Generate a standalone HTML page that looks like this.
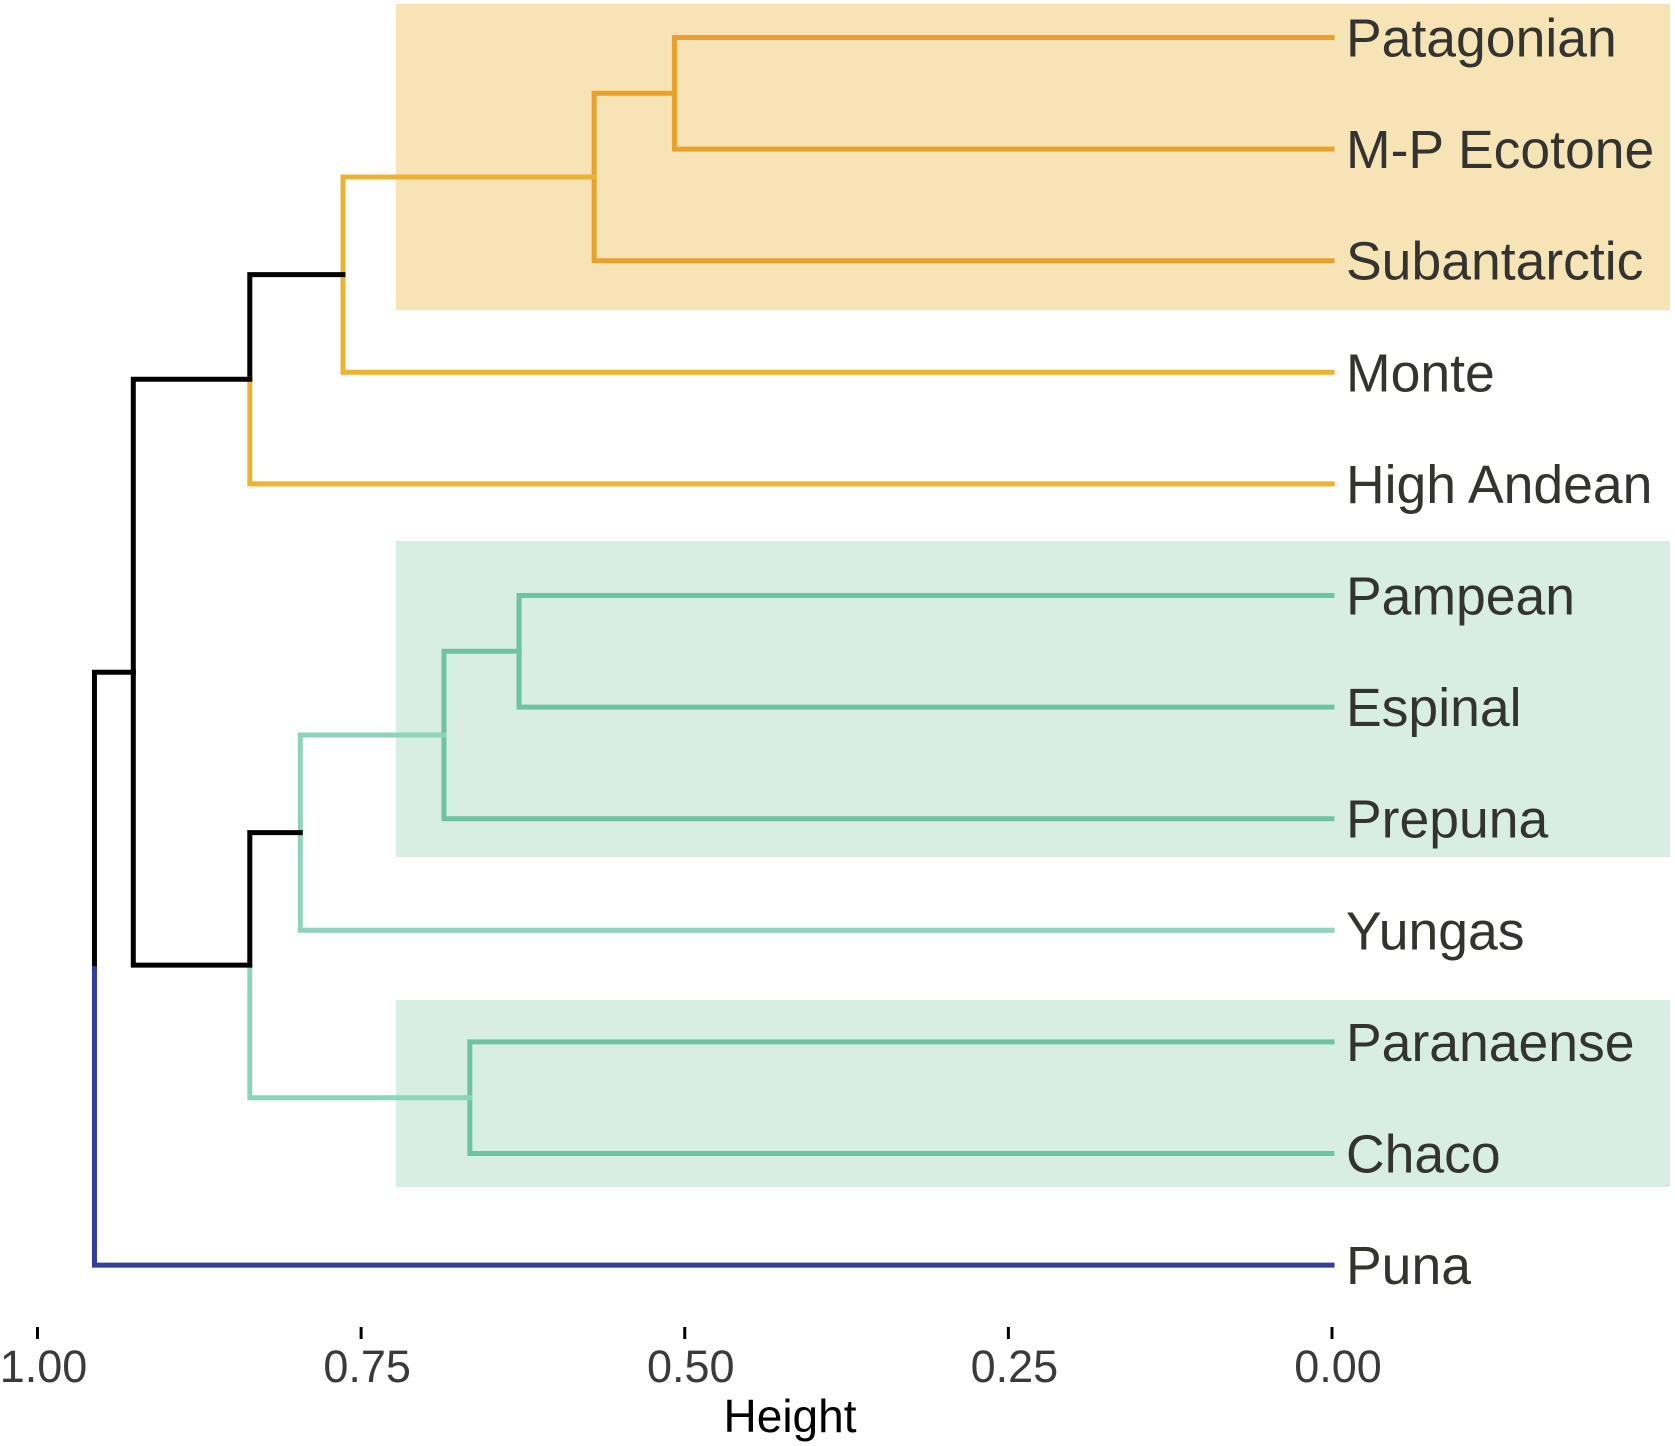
<!DOCTYPE html>
<html><head><meta charset="utf-8"><style>
html,body{margin:0;padding:0;background:#fff;}
svg{display:block;font-family:"Liberation Sans",Arial,sans-serif;}
</style></head><body>
<svg id="chart" width="1675" height="1446" viewBox="0 0 1675 1446" xmlns="http://www.w3.org/2000/svg">
<g id="boxes">
<rect x="396" y="4" width="1274" height="306" fill="#F6E4B6"/>
<rect x="396" y="541" width="1274" height="316" fill="#D8EEE5"/>
<rect x="396" y="1000" width="1274" height="187" fill="#D8EEE5"/>
</g>
<g id="branches"></g>
<g id="labels"></g>
<g id="axis"></g>
<text x="790" y="1432" text-anchor="middle" font-size="46" fill="#000">Height</text>
</svg>
<script>
const leaves = ["Patagonian","M-P Ecotone","Subantarctic","Monte","High Andean","Pampean","Espinal","Prepuna","Yungas","Paranaense","Chaco","Puna"];
const leafColors = ["#E9A12E","#E9A12E","#E9A12E","#EDB134","#EDB134","#6FC2A4","#6FC2A4","#6FC2A4","#8ED3BB","#6FC2A4","#6FC2A4","#323F9A"];
// merges: [childA, childB, height, colorA, colorB]; negative = leaf index, positive = merge index (1-based)
const merges = [
  [-0, -1, 0.508, null, null],
  [1, -2, 0.570, "#E9A12E", null],
  [2, -3, 0.764, "#EDB134", null],
  [3, -4, 0.836, "#000000", null],
  [-5, -6, 0.628, null, null],
  [5, -7, 0.686, "#6FC2A4", null],
  [6, -8, 0.797, "#8ED3BB", null],
  [-9, -10, 0.666, null, null],
  [7, 8, 0.836, "#000000", "#8ED3BB"],
  [4, 9, 0.926, "#000000", "#000000"],
  [10, -11, 0.956, "#000000", null]
];
const tickValues = [1.00, 0.75, 0.50, 0.25, 0.00];
const tickLabels = ["1.00","0.75","0.50","0.25","0.00"];

const NS = "http://www.w3.org/2000/svg";
const X0 = 1332, XS = 1294.5, Y0 = 37.5, YS = 111.6;
const xOf = h => X0 - h * XS;
const yOf = i => Y0 + i * YS;

function mk(tag, attrs, parent){
  const e = document.createElementNS(NS, tag);
  for (const k in attrs) e.setAttribute(k, attrs[k]);
  parent.appendChild(e);
  return e;
}

const nodeY = [], nodeH = [];
function childPos(c){
  if (c < 0 || Object.is(c, -0)) { const i = -c; return [yOf(i), 0, leafColors[i]]; }
  return [nodeY[c], nodeH[c], null];
}
const gBr = document.getElementById("branches");
merges.forEach((m, idx) => {
  const n = idx + 1;
  const a = childPos(m[0]), b = childPos(m[1]);
  const h = m[2];
  nodeH[n] = h;
  nodeY[n] = (a[0] + b[0]) / 2;
  const px = xOf(h);
  [[a, m[3]], [b, m[4]]].forEach(([c, col]) => {
    const color = col || c[2];
    const p = mk("path", {d: `M${xOf(c[1])},${c[0]} H${px} V${nodeY[n]}`, fill: "none", stroke: color, "stroke-width": 5, "stroke-linecap": "square"}, gBr);
    
    
  });
});

const gL = document.getElementById("labels");
leaves.forEach((name, i) => {
  const t = mk("text", {x: 1346, y: yOf(i) + 19, "font-size": 53.5, fill: "#333330"}, gL);
  t.textContent = name;
  
  
});

const gA = document.getElementById("axis");
tickValues.forEach((v, i) => {
  const x = xOf(v);
  const l = mk("line", {x1: x, x2: x, y1: 1327, y2: 1339, stroke: "#000", "stroke-width": 3}, gA);
  
  
  const t = mk("text", {x: x + 6, y: 1382, "text-anchor": "middle", "font-size": 45, fill: "#3a3a3a"}, gA);
  t.textContent = tickLabels[i];
  
  
});
</script>
</body></html>
